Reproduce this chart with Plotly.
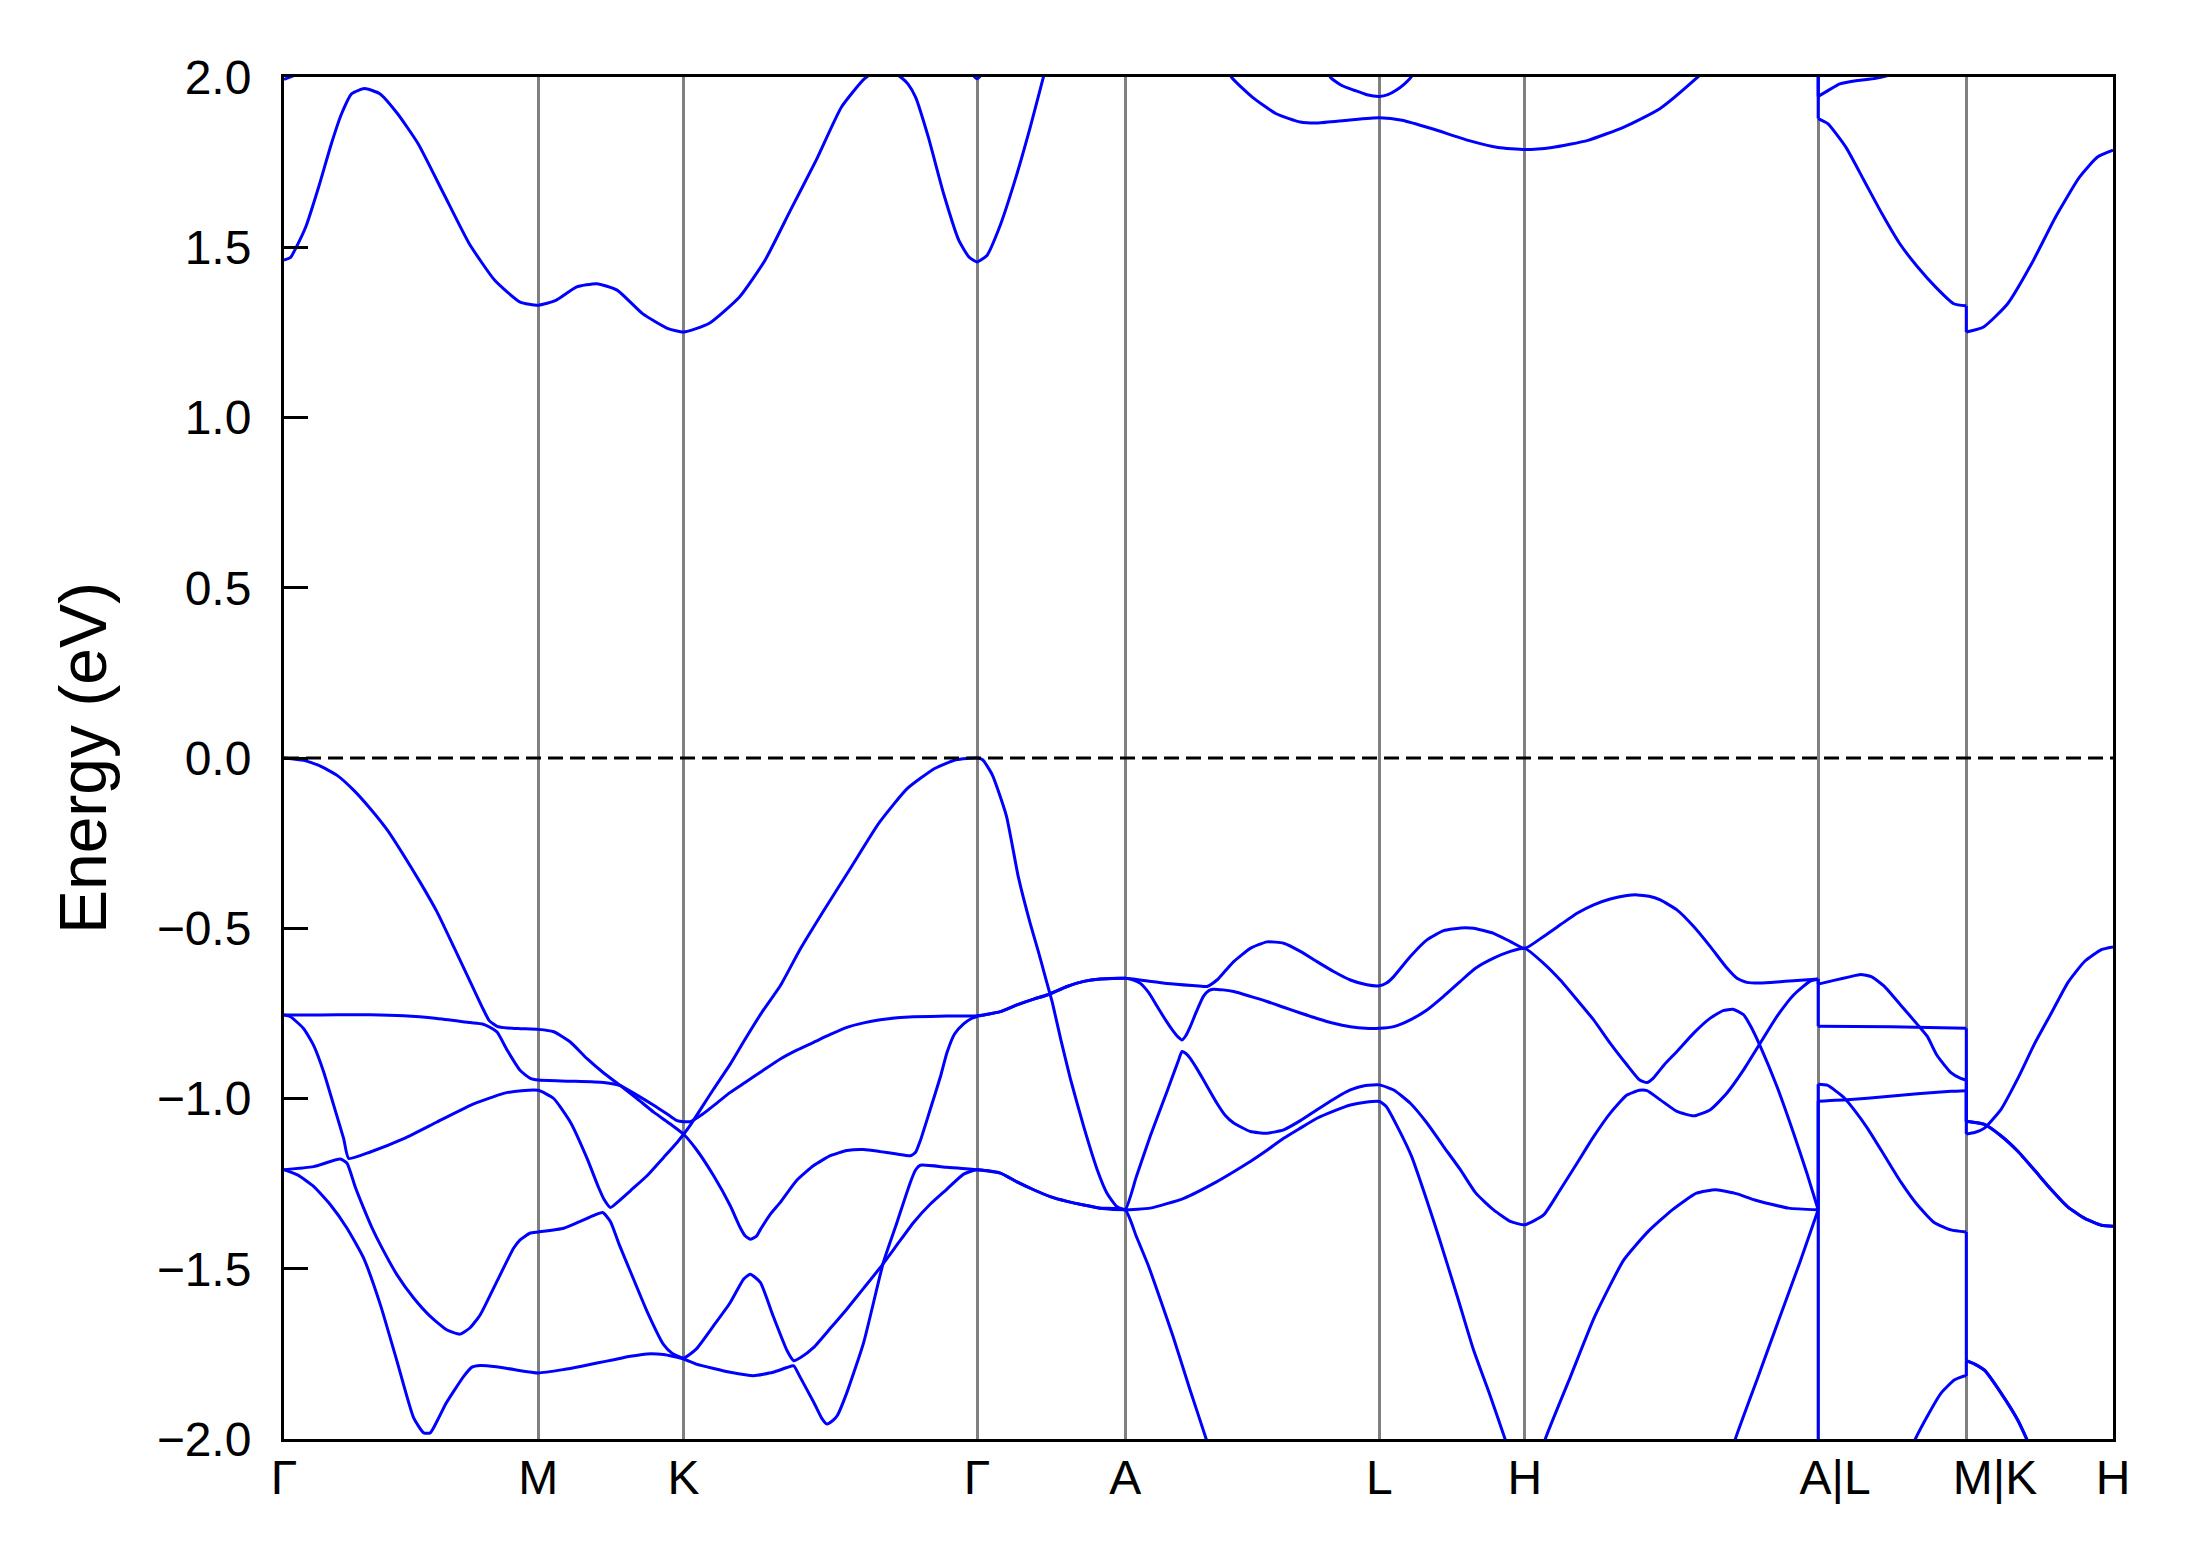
import plotly.graph_objects as go

# ---------------- data ----------------
K_TICKS = [0.0, 1.82, 2.86, 4.96, 6.02, 7.84, 8.88, 10.98, 12.04, 13.09]
K_LABELS = ["Γ", "M", "K", "Γ", "A", "L", "H", "\u2002\u2009A|L", "\u2003\u2009M|K", "H"]
E_TICKS = [-2.0, -1.5, -1.0, -0.5, 0.0, 0.5, 1.0, 1.5, 2.0]

# shared pieces of path (k, E)
seg_gamma_a_upper = [(5.127, -0.745), (5.246, -0.725), (5.365, -0.708), (5.461, -0.696), (5.604, -0.671),
                     (5.723, -0.656), (5.842, -0.649), (6.02, -0.647)]
seg_gamma_a_lower = [(5.127, -1.219), (5.246, -1.245), (5.365, -1.268), (5.484, -1.288), (5.604, -1.302),
                     (5.723, -1.313), (5.842, -1.322), (6.02, -1.327)]
seg_k_h_lower = [(12.04, -1.067), (12.17, -1.076), (12.29, -1.11), (12.409, -1.155), (12.529, -1.211),
                 (12.649, -1.268), (12.768, -1.319), (12.888, -1.352), (13.007, -1.372), (13.09, -1.375)]
seg_k_h_bottom = [(12.04, -1.77), (12.10, -1.78), (12.17, -1.798), (12.29, -1.866), (12.409, -1.945),
                  (12.48, -2.007), (12.6, -2.12), (13.09, -2.6)]

band_v1 = ([(0.0, 0.0), (0.141, -0.007), (0.25, -0.022), (0.38, -0.051), (0.50, -0.095), (0.618, -0.149),
            (0.74, -0.212), (0.857, -0.286), (0.976, -0.366), (1.095, -0.452), (1.215, -0.555), (1.334, -0.658),
            (1.42, -0.733), (1.47, -0.772), (1.525, -0.788), (1.60, -0.793), (1.691, -0.795), (1.82, -0.797),
            (1.93, -0.804), (2.049, -0.834), (2.169, -0.883), (2.288, -0.925), (2.407, -0.962), (2.526, -1.0),
            (2.646, -1.04), (2.765, -1.075), (2.86, -1.105),
            (2.95, -1.149), (3.075, -1.227), (3.194, -1.315), (3.26, -1.375), (3.30, -1.403), (3.337, -1.413),
            (3.38, -1.405), (3.409, -1.385), (3.48, -1.34), (3.552, -1.305), (3.67, -1.24), (3.791, -1.197),
            (3.91, -1.168), (4.029, -1.153), (4.149, -1.15), (4.268, -1.156), (4.387, -1.163), (4.483, -1.168),
            (4.52, -1.158), (4.554, -1.124), (4.626, -1.031), (4.70, -0.933), (4.745, -0.865), (4.80, -0.81),
            (4.864, -0.781), (4.92, -0.765), (4.96, -0.759)]
           + seg_gamma_a_upper +
           [(6.129, -0.652), (6.319, -0.662), (6.50, -0.668), (6.606, -0.671), (6.677, -0.652), (6.737, -0.625),
            (6.797, -0.598), (6.916, -0.559), (7.035, -0.54), (7.154, -0.544), (7.274, -0.568), (7.393, -0.598),
            (7.512, -0.627), (7.632, -0.652), (7.75, -0.666), (7.84, -0.669),
            (7.89, -0.661), (7.942, -0.642), (8.061, -0.583), (8.18, -0.534), (8.30, -0.507), (8.42, -0.499),
            (8.514, -0.5), (8.657, -0.515), (8.777, -0.539), (8.88, -0.559),
            (9.015, -0.524), (9.134, -0.49), (9.254, -0.456), (9.373, -0.431), (9.492, -0.414), (9.611, -0.404),
            (9.683, -0.402), (9.77, -0.406), (9.85, -0.417), (9.969, -0.446), (10.089, -0.495), (10.208, -0.554),
            (10.327, -0.617), (10.399, -0.647), (10.47, -0.659), (10.566, -0.661), (10.685, -0.658),
            (10.804, -0.654), (10.98, -0.649),
            (10.98, -0.664), (11.093, -0.653), (11.212, -0.642), (11.284, -0.636), (11.36, -0.642),
            (11.452, -0.67), (11.571, -0.726), (11.691, -0.783), (11.76, -0.817), (11.83, -0.873),
            (11.93, -0.924), (12.0, -0.941), (12.04, -0.946)]
           + seg_k_h_lower)

band_v2 = ([(0.0, -0.755), (0.141, -0.755), (0.38, -0.754), (0.618, -0.754), (0.857, -0.757), (1.095, -0.765),
            (1.334, -0.777), (1.42, -0.781), (1.47, -0.79), (1.525, -0.805), (1.60, -0.86), (1.691, -0.918),
            (1.763, -0.941), (1.82, -0.946),
            (2.049, -0.949), (2.288, -0.953), (2.407, -0.962), (2.526, -0.99), (2.646, -1.02), (2.765, -1.052),
            (2.813, -1.065), (2.86, -1.068),
            (2.908, -1.068), (3.0, -1.045), (3.075, -1.021), (3.194, -0.982), (3.30, -0.953), (3.42, -0.92),
            (3.552, -0.884), (3.67, -0.858), (3.791, -0.835), (3.91, -0.812), (4.029, -0.791), (4.149, -0.778),
            (4.268, -0.769), (4.387, -0.763), (4.506, -0.76), (4.745, -0.758), (4.96, -0.757)]
           + seg_gamma_a_upper +
           [(6.08, -0.652), (6.129, -0.662), (6.19, -0.69), (6.25, -0.73), (6.31, -0.77), (6.36, -0.80),
            (6.40, -0.82), (6.427, -0.828), (6.455, -0.815), (6.486, -0.789), (6.53, -0.745), (6.58, -0.70),
            (6.62, -0.683), (6.65, -0.679), (6.72, -0.681), (6.797, -0.686), (6.916, -0.70), (7.035, -0.715),
            (7.154, -0.732), (7.274, -0.749), (7.393, -0.765), (7.512, -0.779), (7.632, -0.789), (7.74, -0.794),
            (7.84, -0.794),
            (7.942, -0.789), (8.061, -0.769), (8.18, -0.74), (8.299, -0.70), (8.419, -0.656), (8.53, -0.617),
            (8.657, -0.588), (8.777, -0.568), (8.88, -0.559),
            (9.015, -0.603), (9.134, -0.652), (9.254, -0.71), (9.373, -0.769), (9.492, -0.838), (9.611, -0.901),
            (9.70, -0.945), (9.755, -0.953), (9.80, -0.94), (9.88, -0.90), (9.969, -0.862), (10.089, -0.808),
            (10.208, -0.764), (10.30, -0.742), (10.37, -0.738), (10.446, -0.754), (10.50, -0.79),
            (10.566, -0.847), (10.685, -0.965), (10.804, -1.102), (10.90, -1.22), (10.98, -1.327),
            (10.98, -0.958), (11.045, -0.961), (11.164, -0.997), (11.25, -1.04), (11.332, -1.087),
            (11.452, -1.166), (11.571, -1.245), (11.691, -1.313), (11.81, -1.364), (11.93, -1.386),
            (12.04, -1.392)]
           + seg_k_h_bottom)

band_v3 = [(0.0, -0.755), (0.047, -0.76), (0.141, -0.795), (0.212, -0.844), (0.284, -0.922), (0.356, -1.02),
           (0.427, -1.118), (0.463, -1.176), (0.618, -1.157), (0.857, -1.118), (1.095, -1.069), (1.334, -1.02),
           (1.572, -0.985), (1.70, -0.977), (1.82, -0.976),
           (1.93, -1.0), (2.049, -1.069), (2.169, -1.176), (2.25, -1.26), (2.29, -1.296), (2.336, -1.32),
           (2.40, -1.30), (2.479, -1.271), (2.598, -1.227), (2.717, -1.173), (2.813, -1.129), (2.86, -1.105),
           (2.908, -1.078), (3.075, -0.972), (3.194, -0.899), (3.30, -0.826), (3.42, -0.747), (3.552, -0.669),
           (3.695, -0.561), (3.86, -0.45), (4.06, -0.32), (4.26, -0.19), (4.46, -0.09), (4.66, -0.03),
           (4.81, -0.005), (4.96, 0.0),
           (5.0, -0.005), (5.07, -0.05), (5.17, -0.17), (5.256, -0.35), (5.34, -0.485), (5.40, -0.57),
           (5.44, -0.63), (5.48, -0.69), (5.50, -0.72), (5.56, -0.828), (5.63, -0.945), (5.723, -1.082),
           (5.82, -1.209), (5.89, -1.278), (5.96, -1.317), (6.02, -1.327),
           (6.10, -1.23), (6.20, -1.11), (6.319, -0.98), (6.40, -0.89), (6.427, -0.862), (6.455, -0.868),
           (6.486, -0.882), (6.53, -0.91), (6.58, -0.945), (6.677, -1.014), (6.737, -1.05), (6.797, -1.072),
           (6.916, -1.097), (7.035, -1.102), (7.154, -1.092), (7.274, -1.065), (7.393, -1.033), (7.512, -1.002),
           (7.632, -0.975), (7.74, -0.962), (7.84, -0.96),
           (7.942, -0.975), (8.061, -1.014), (8.18, -1.072), (8.299, -1.141), (8.419, -1.209), (8.53, -1.278),
           (8.657, -1.327), (8.777, -1.361), (8.88, -1.371),
           (9.015, -1.342), (9.134, -1.268), (9.254, -1.19), (9.373, -1.112), (9.492, -1.043), (9.611, -0.99),
           (9.70, -0.976), (9.755, -0.977), (9.85, -1.004), (9.969, -1.038), (10.089, -1.051), (10.208, -1.033),
           (10.327, -0.984), (10.446, -0.916), (10.566, -0.837), (10.685, -0.759), (10.804, -0.696),
           (10.92, -0.656), (10.98, -0.649),
           (10.98, -0.788), (11.5, -0.789), (12.04, -0.794),
           (12.04, -1.104), (12.10, -1.10), (12.17, -1.087), (12.29, -1.031), (12.409, -0.941), (12.529, -0.839),
           (12.649, -0.749), (12.768, -0.659), (12.888, -0.597), (13.007, -0.563), (13.09, -0.555)]

band_v4 = ([(0.0, -1.209), (0.212, -1.2), (0.403, -1.178), (0.451, -1.19), (0.51, -1.26), (0.570, -1.322),
            (0.63, -1.38), (0.69, -1.43), (0.809, -1.518), (0.928, -1.586), (1.047, -1.64), (1.167, -1.68),
            (1.26, -1.692), (1.33, -1.674), (1.405, -1.635), (1.524, -1.537), (1.644, -1.439), (1.69, -1.415),
            (1.763, -1.395), (1.82, -1.392),
            (2.002, -1.381), (2.121, -1.361), (2.28, -1.335), (2.336, -1.361), (2.40, -1.43), (2.479, -1.508),
            (2.598, -1.625), (2.717, -1.723), (2.777, -1.748), (2.86, -1.762),
            (2.95, -1.736), (3.075, -1.667), (3.194, -1.599), (3.29, -1.53), (3.337, -1.516), (3.409, -1.54),
            (3.50, -1.638), (3.60, -1.74), (3.648, -1.77), (3.70, -1.76), (3.791, -1.731), (3.91, -1.675),
            (4.029, -1.618), (4.149, -1.557), (4.268, -1.496), (4.387, -1.43), (4.506, -1.364), (4.626, -1.31),
            (4.745, -1.266), (4.864, -1.222), (4.96, -1.209)]
           + seg_gamma_a_lower +
           [(6.2, -1.322), (6.44, -1.293), (6.677, -1.244), (6.797, -1.215), (6.916, -1.185), (7.035, -1.152),
            (7.154, -1.117), (7.274, -1.087), (7.393, -1.058), (7.512, -1.037), (7.632, -1.019), (7.74, -1.011),
            (7.84, -1.009),
            (7.89, -1.024), (7.98, -1.092), (8.07, -1.17), (8.18, -1.30), (8.271, -1.415), (8.40, -1.585),
            (8.513, -1.738), (8.63, -1.87), (8.739, -2.0), (8.88, -2.18), (8.96, -2.10), (9.027, -2.0),
            (9.208, -1.816), (9.381, -1.64), (9.589, -1.474), (9.762, -1.391), (9.936, -1.327), (10.109, -1.278),
            (10.248, -1.268), (10.40, -1.28), (10.526, -1.298), (10.768, -1.322), (10.98, -1.327),
            (10.98, -1.008), (11.212, -1.003), (11.452, -0.995), (11.691, -0.986), (11.93, -0.979),
            (12.04, -0.977)]
           + seg_k_h_lower)

band_v5 = ([(0.0, -1.209), (0.1, -1.225), (0.212, -1.258), (0.332, -1.312), (0.451, -1.381), (0.570, -1.469),
            (0.690, -1.606), (0.809, -1.772), (0.928, -1.938), (1.00, -1.982), (1.047, -1.982), (1.107, -1.938),
            (1.16, -1.895), (1.214, -1.86), (1.286, -1.816), (1.345, -1.789), (1.405, -1.784), (1.52, -1.788),
            (1.644, -1.796), (1.82, -1.806),
            (2.002, -1.796), (2.121, -1.787), (2.24, -1.777), (2.36, -1.767), (2.479, -1.757), (2.598, -1.75),
            (2.717, -1.752), (2.79, -1.758), (2.86, -1.765),
            (2.95, -1.78), (3.075, -1.793), (3.194, -1.804), (3.36, -1.814), (3.50, -1.804), (3.60, -1.79),
            (3.648, -1.785), (3.695, -1.819), (3.791, -1.892), (3.85, -1.94), (3.886, -1.956), (3.93, -1.945),
            (3.96, -1.931), (4.029, -1.863), (4.149, -1.716), (4.29, -1.481), (4.387, -1.364), (4.483, -1.246),
            (4.52, -1.21), (4.554, -1.196), (4.745, -1.202), (4.96, -1.209)]
           + seg_gamma_a_lower +
           [(6.10, -1.405), (6.189, -1.494), (6.28, -1.60), (6.363, -1.699), (6.48, -1.85), (6.60, -2.0),
            (6.75, -2.2), (7.84, -2.9), (8.88, -3.0), (9.9, -2.8), (10.30, -2.12), (10.387, -2.0),
            (10.55, -1.817), (10.699, -1.649), (10.85, -1.48), (10.98, -1.327),
            (10.98, -2.6), (11.3, -2.35), (11.55, -2.12), (11.667, -2.007), (11.76, -1.934), (11.858, -1.866),
            (11.954, -1.827), (12.026, -1.815), (12.04, -1.815)]
           + seg_k_h_bottom)

band_c1 = [(0.0, 1.462), (0.047, 1.47), (0.1, 1.51), (0.156, 1.56), (0.248, 1.677), (0.339, 1.804),
           (0.412, 1.892), (0.485, 1.951), (0.576, 1.966), (0.686, 1.951), (0.813, 1.892), (0.96, 1.804),
           (1.143, 1.657), (1.325, 1.511), (1.508, 1.403), (1.69, 1.339), (1.82, 1.33), (1.946, 1.344),
           (2.092, 1.383), (2.238, 1.393), (2.384, 1.374), (2.566, 1.305), (2.749, 1.261), (2.86, 1.251),
           (3.041, 1.276), (3.26, 1.354), (3.443, 1.462), (3.625, 1.609), (3.808, 1.755), (3.99, 1.912),
           (4.155, 1.995), (4.29, 2.03), (4.428, 1.995), (4.465, 1.98), (4.52, 1.941), (4.611, 1.824),
           (4.721, 1.657), (4.83, 1.52), (4.903, 1.471), (4.96, 1.457), (5.031, 1.476), (5.122, 1.56),
           (5.232, 1.697), (5.341, 1.853), (5.432, 1.995), (5.6, 2.25), (6.02, 2.4), (6.5, 2.2), (6.78, 2.0),
           (6.93, 1.941), (7.101, 1.892), (7.273, 1.868), (7.402, 1.865), (7.616, 1.873), (7.84, 1.88),
           (8.002, 1.873), (8.217, 1.848), (8.475, 1.814), (8.689, 1.793), (8.88, 1.787), (9.075, 1.793),
           (9.332, 1.814), (9.59, 1.853), (9.847, 1.907), (10.105, 1.995), (10.5, 2.15), (10.98, 2.3),
           (10.98, 1.878), (11.049, 1.863), (11.178, 1.794), (11.307, 1.697), (11.436, 1.599), (11.563, 1.511),
           (11.692, 1.442), (11.821, 1.383), (11.95, 1.334), (12.04, 1.328),
           (12.04, 1.251), (12.164, 1.266), (12.336, 1.334), (12.508, 1.452), (12.679, 1.589), (12.85, 1.706),
           (12.979, 1.765), (13.09, 1.785)]

band_c2_gamma0 = [(0.0, 1.993), (0.15, 2.02), (0.4, 2.15)]
band_c2_gamma1 = [(4.85, 2.05), (4.96, 1.995), (5.07, 2.05)]
band_c2_l = [(7.35, 2.15), (7.488, 2.0), (7.57, 1.975), (7.66, 1.961), (7.75, 1.948), (7.84, 1.943),
             (7.90, 1.948), (7.959, 1.961), (8.02, 1.98), (8.067, 2.0), (8.2, 2.12)]
band_c2_al = [(10.6, 2.3), (10.98, 2.4), (10.98, 1.943), (11.05, 1.96), (11.135, 1.98), (11.263, 1.99),
              (11.392, 1.996), (11.6, 2.02), (12.04, 2.15)]

BANDS = [band_v1, band_v2, band_v3, band_v4, band_v5,
         band_c1, band_c2_gamma0, band_c2_gamma1, band_c2_l, band_c2_al]

# ---------------- figure ----------------
BODY = 8                    # default page margin around the plot div
W, H = 2191 - 2 * BODY, 1567 - 2 * BODY
FONT = "Liberation Sans, Arial, sans-serif"
BLUE = "#0000ff"
LW = 3.0


def split_band(band):
    """Split a band at the path discontinuities (repeated k): smooth pieces + vertical jumps."""
    pieces, jumps, cur = [], [], [band[0]]
    for p in band[1:]:
        if p[0] == cur[-1][0]:
            pieces.append(cur)
            jumps.append([cur[-1], p])
            cur = [p]
        else:
            cur.append(p)
    pieces.append(cur)
    return pieces, jumps


fig = go.Figure()
for band in BANDS:
    pieces, jumps = split_band(band)
    for piece in pieces:
        fig.add_trace(go.Scatter(x=[p[0] for p in piece], y=[p[1] for p in piece], mode="lines",
                                 line=dict(color=BLUE, width=LW, shape="spline", smoothing=0.5),
                                 hoverinfo="skip", showlegend=False))
    for jump in jumps:
        fig.add_trace(go.Scatter(x=[p[0] for p in jump], y=[p[1] for p in jump], mode="lines",
                                 line=dict(color=BLUE, width=LW),
                                 hoverinfo="skip", showlegend=False))

fig.add_trace(go.Scatter(x=[K_TICKS[0], K_TICKS[-1]], y=[0, 0], mode="lines",
                         line=dict(color="black", width=2.8, dash="15px,7px"),
                         hoverinfo="skip", showlegend=False))

fig.update_layout(
    width=W, height=H,
    margin=dict(l=284 - BODY, r=2191 - 2113 - BODY, t=77 - BODY, b=1567 - 1439 - BODY, autoexpand=False),
    paper_bgcolor="white", plot_bgcolor="white",
    font=dict(family=FONT, size=48, color="black"),
    showlegend=False,
)
fig.update_xaxes(
    range=[K_TICKS[0], K_TICKS[-1]], automargin=False,
    tickmode="array", tickvals=K_TICKS, ticktext=K_LABELS,
    ticks="", showgrid=True, gridcolor="#808080", gridwidth=3,
    zeroline=False, showline=True, mirror=True, linecolor="black", linewidth=3,
    tickfont=dict(family=FONT, size=48, color="black"),
    ticklabelstandoff=-6,
)
fig.update_yaxes(
    range=[-2.0, 2.0], automargin=False,
    tickmode="array", tickvals=E_TICKS, tickformat=".1f",
    ticks="inside", ticklen=24, tickwidth=3, tickcolor="black",
    showgrid=False, zeroline=False, showline=True, mirror=True, linecolor="black", linewidth=3,
    tickfont=dict(family=FONT, size=48, color="black"),
    ticklabelstandoff=20,
    title=dict(text="Energy (eV)", font=dict(family=FONT, size=66, color="black"), standoff=29),
)

fig.write_html("out.html")
